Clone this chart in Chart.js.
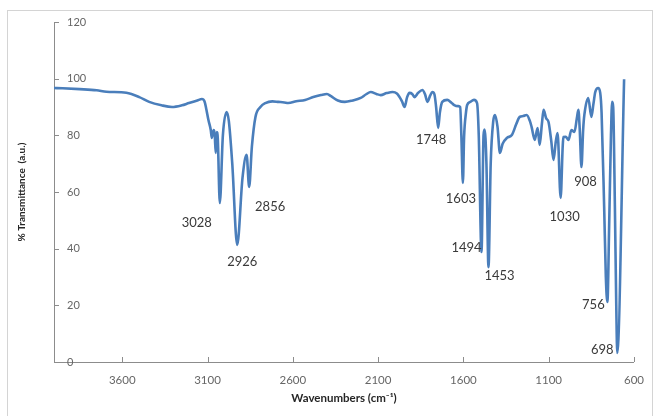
<!DOCTYPE html>
<html>
<head>
<meta charset="utf-8">
<script src="https://cdn.jsdelivr.net/npm/chart.js@4/dist/chart.umd.min.js"></script>
<style>
  html, body { margin: 0; padding: 0; background: #fff; }
  canvas { display: block; }
</style>
</head>
<body>
<canvas id="ir" width="655" height="416"></canvas>
<script>
// FTIR spectrum: wavenumber (cm-1) and % transmittance
const wavenumbers = [
  4000, 3950, 3850, 3750, 3693, 3576, 3500, 3442, 3370, 3308,
  3250, 3209, 3160, 3133, 3118, 3108, 3095, 3081, 3075, 3064,
  3058, 3052, 3046, 3040, 3028, 3010, 2988, 2975, 2955, 2926,
  2895, 2871, 2856, 2840, 2819, 2790, 2761, 2720, 2685, 2650,
  2627, 2580, 2528, 2480, 2435, 2400, 2376, 2336, 2295, 2250,
  2202, 2170, 2143, 2110, 2085, 2050, 2015, 1990, 1974, 1960,
  1945, 1930, 1916, 1900, 1887, 1865, 1841, 1825, 1811, 1795,
  1782, 1770, 1760, 1748, 1738, 1724, 1695, 1670, 1654, 1630,
  1619, 1612, 1603, 1596, 1585, 1578, 1560, 1538, 1520, 1510,
  1494, 1482, 1476, 1465, 1453, 1440, 1425, 1415, 1400, 1386,
  1370, 1345, 1316, 1290, 1270, 1250, 1229, 1210, 1200, 1182,
  1165, 1153, 1140, 1130, 1115, 1101, 1085, 1072, 1058, 1048,
  1030, 1018, 1014, 1000, 984, 967, 949, 935, 926, 918,
  908, 898, 891, 868, 850, 838, 827, 810, 798, 790,
  775, 765, 756, 745, 735, 728, 722, 712, 704, 698,
  658
];
const transmittance = [
  96.7, 96.6, 96.3, 95.9, 95.4, 95.0, 93.5, 91.8, 90.6, 90.0,
  90.6, 91.4, 92.3, 92.8, 92.0, 89.5, 85.5, 81.9, 79.1, 81.9,
  80.5, 73.8, 81.2, 79.0, 56.1, 80.0, 88.2, 85.0, 70.0, 41.3,
  65.0, 73.1, 61.8, 76.0, 86.5, 90.0, 91.4, 92.0, 91.8, 91.6,
  91.4, 92.0, 92.5, 93.5, 94.2, 94.6, 93.8, 92.3, 91.8, 92.3,
  93.2, 94.5, 95.3, 94.6, 94.2, 94.9, 95.3, 94.8, 93.5, 92.0,
  90.0, 93.5, 95.0, 94.6, 93.5, 95.0, 96.0, 94.5, 91.8, 94.0,
  95.3, 94.5, 90.0, 82.6, 88.0, 91.8, 92.5, 91.5, 90.7, 90.3,
  90.0, 80.0, 63.2, 79.4, 88.0, 90.7, 91.8, 92.5, 91.4, 80.0,
  38.8, 80.0, 82.0, 70.0, 33.5, 70.0, 85.0, 87.2, 83.0, 73.8,
  77.0, 79.1, 80.1, 84.0, 86.5, 86.8, 87.2, 85.0, 82.9, 78.4,
  82.6, 76.6, 84.0, 89.0, 86.0, 84.7, 78.0, 71.3, 78.0, 80.8,
  57.9, 76.0, 79.4, 79.5, 78.4, 81.9, 81.2, 86.0, 89.0, 82.0,
  68.8, 82.0, 87.2, 93.2, 86.5, 91.0, 95.3, 96.7, 95.0, 88.0,
  55.0, 30.0, 21.2, 50.0, 80.0, 91.8, 90.0, 55.0, 20.0, 3.2,
  99.8
];
const xTicks = [3600, 3100, 2600, 2100, 1600, 1100, 600];
const yTicks = [0, 20, 40, 60, 80, 100, 120];
// absorption bands annotated on the spectrum
const peakLabels = [3028, 2926, 2856, 1748, 1603, 1494, 1453, 1030, 908, 756, 698];

const AXIS_GREY = '#8c8c8c';

// white background, outer chart frame and inward tick marks
const framePlugin = {
  id: 'frame',
  beforeDraw(chart) {
    const ctx = chart.ctx;
    ctx.save();
    ctx.fillStyle = '#ffffff';
    ctx.fillRect(0, 0, chart.width, chart.height);
    ctx.strokeStyle = '#d4d4d4';
    ctx.lineWidth = 1;
    ctx.strokeRect(7.5, 10.5, 645, 420);
    ctx.restore();
  },
  afterDraw(chart) {
    const { ctx, scales: { x, y }, chartArea: a } = chart;
    ctx.save();
    ctx.strokeStyle = AXIS_GREY;
    ctx.lineWidth = 1;
    ctx.beginPath();
    xTicks.forEach(v => {
      const px = Math.round(x.getPixelForValue(v)) + 0.5;
      ctx.moveTo(px, a.bottom);
      ctx.lineTo(px, a.bottom - 5);
    });
    yTicks.forEach(v => {
      const py = Math.round(y.getPixelForValue(v)) + 0.5;
      ctx.moveTo(a.left, py);
      ctx.lineTo(a.left + 5, py);
    });
    ctx.stroke();
    ctx.restore();
  }
};

// wavenumber labels next to the marked bands
const peakTextPlugin = {
  id: 'peakText',
  afterDatasetsDraw(chart, args, opts) {
    const { ctx, scales: { x, y } } = chart;
    ctx.save();
    ctx.font = opts.font;
    ctx.fillStyle = opts.color;
    ctx.textAlign = 'center';
    ctx.textBaseline = 'middle';
    peakLabels.forEach(wn => {
      const i = wavenumbers.indexOf(wn);
      const px = x.getPixelForValue(wn);
      const py = y.getPixelForValue(transmittance[i]);
      const [dx, dy] = opts.offsets[wn] || [0, 14];
      ctx.fillText(String(wn), px + dx, py + dy);
    });
    ctx.restore();
  }
};

new Chart(document.getElementById('ir'), {
  type: 'line',
  data: {
    datasets: [{
      data: wavenumbers.map((w, i) => ({ x: w, y: transmittance[i] })),
      borderColor: '#4a7ebb',
      borderWidth: 2.6,
      pointRadius: 0,
      fill: false,
      cubicInterpolationMode: 'monotone'
    }]
  },
  options: {
    responsive: false,
    animation: false,
    devicePixelRatio: 1,
    layout: { padding: { top: 22, right: 17, left: 0, bottom: 0 } },
    plugins: {
      legend: { display: false },
      tooltip: { enabled: false },
      peakText: {
        font: '13px Lato, "Open Sans", sans-serif',
        color: '#3a3a3a',
        offsets: {
          3028: [-23, 20], 2926: [5, 17], 2856: [21, 20],
          1748: [-7, 12], 1603: [-2, 16], 1494: [-15, -4],
          1453: [11, 9], 1030: [4, 19], 908: [4, 15],
          756: [-14, 3], 698: [-15, -3]
        }
      }
    },
    scales: {
      x: {
        type: 'linear',
        reverse: true,
        min: 600,
        max: 4000,
        afterBuildTicks: s => { s.ticks = xTicks.map(v => ({ value: v })); },
        afterFit: s => { s.height = 54; },
        grid: { display: false, drawTicks: false, drawOnChartArea: false },
        border: { display: true, color: AXIS_GREY, width: 1 },
        ticks: {
          color: '#666',
          font: { family: 'Lato', size: 11.5 },
          padding: 11,
          maxRotation: 0,
          autoSkip: false,
          callback: v => String(v)
        },
        title: {
          display: true,
          text: 'Wavenumbers (cm\u207B\u00B9)',
          color: '#262626',
          font: { family: 'Lato', size: 11.5, weight: 'bold' },
          padding: { top: 0, bottom: 11 }
        }
      },
      y: {
        type: 'linear',
        min: 0,
        max: 120,
        afterBuildTicks: s => { s.ticks = yTicks.map(v => ({ value: v })); },
        afterFit: s => { s.width = 54; },
        grid: { display: false, drawTicks: false, drawOnChartArea: false },
        border: { display: true, color: AXIS_GREY, width: 1 },
        ticks: {
          mirror: true,
          padding: 13,
          color: '#666',
          font: { family: 'Lato', size: 11 },
          callback: v => String(v)
        },
        title: {
          display: true,
          text: '% Transmittance  (a.u.)',
          color: '#262626',
          font: { family: 'Lato', size: 10, weight: 'bold' },
          padding: { top: 16, bottom: 0 }
        }
      }
    }
  },
  plugins: [framePlugin, peakTextPlugin]
});
</script>
</body>
</html>
